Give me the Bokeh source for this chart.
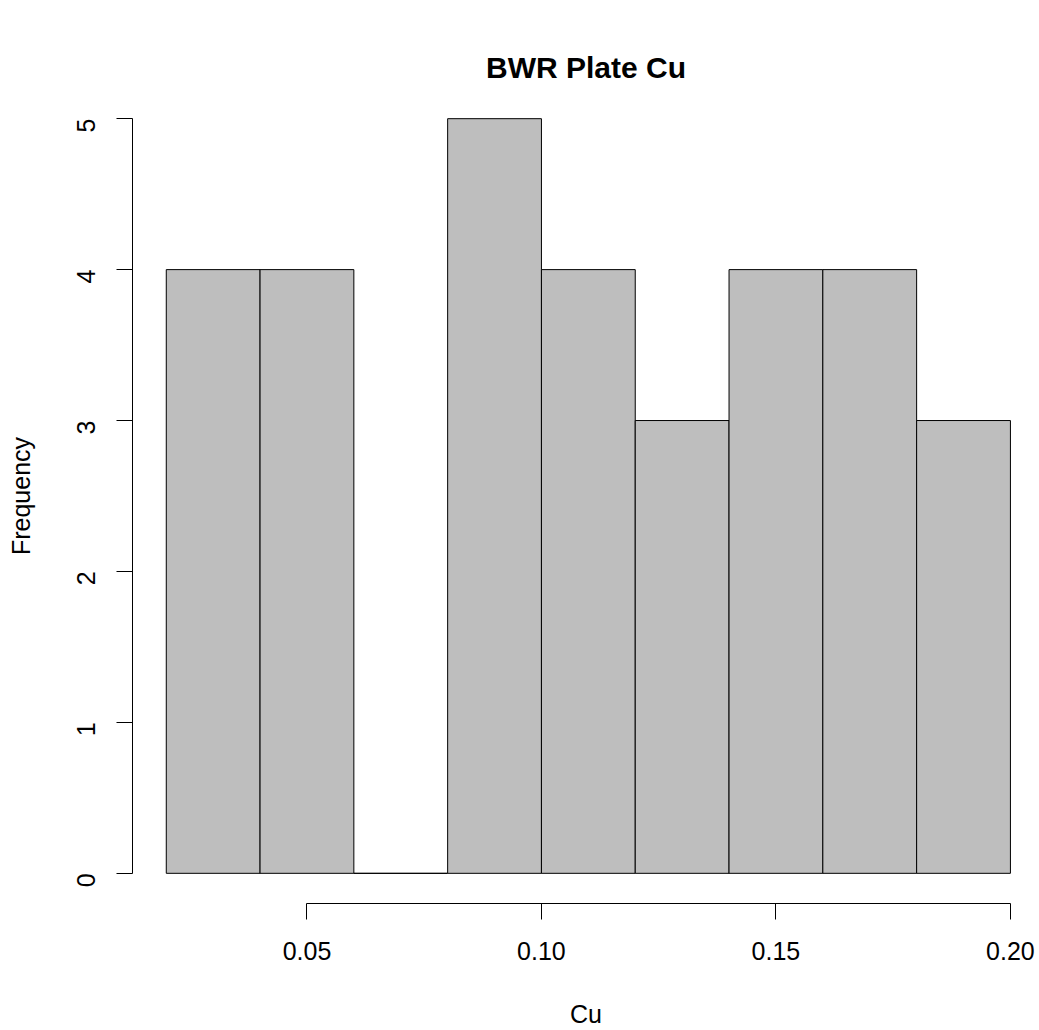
import math

from bokeh.embed import file_html
from bokeh.models import FixedTicker, PrintfTickFormatter, Range1d, Title
from bokeh.plotting import figure
from bokeh.resources import INLINE

# Histogram of Cu content, bins of width 0.02
bin_left = [0.02, 0.04, 0.06, 0.08, 0.10, 0.12, 0.14, 0.16, 0.18]
bin_right = [0.04, 0.06, 0.08, 0.10, 0.12, 0.14, 0.16, 0.18, 0.20]
counts = [4, 4, 0, 5, 4, 3, 4, 4, 3]

x_ticks = [0.05, 0.10, 0.15, 0.20]
y_ticks = [0, 1, 2, 3, 4, 5]

FONT = "Liberation Sans"

p = figure(
    width=1039,
    height=1030,
    x_range=Range1d(0.0128, 0.2062),
    y_range=Range1d(-0.2, 5.2),
    output_backend="svg",
    toolbar_location=None,
    min_border_left=132,
    min_border_right=0,
    min_border_top=88,
    min_border_bottom=126,
)
p.title = None
p.outline_line_color = None
p.xgrid.visible = False
p.ygrid.visible = False
p.background_fill_color = "white"
p.border_fill_color = "white"

p.quad(
    left=bin_left,
    right=bin_right,
    bottom=0,
    top=counts,
    fill_color="#BEBEBE",
    line_color="black",
    line_width=1,
)

# title on the outside, transparent spacer between it and the frame
p.add_layout(
    Title(
        text="BWR Plate Cu",
        align="center",
        text_font=FONT,
        text_font_size="30px",
        text_font_style="bold",
        text_color="black",
        offset=2,
    ),
    "above",
)
p.add_layout(
    Title(text="|", text_font_size="21px", text_alpha=0, standoff=0), "above"
)

# x axis
xa = p.xaxis[0]
xa.bounds = (0.05, 0.20)
xa.ticker = FixedTicker(ticks=x_ticks, minor_ticks=[])
xa.formatter = PrintfTickFormatter(format="%.2f")
xa.major_tick_in = 0
xa.major_tick_out = 16
xa.minor_tick_line_color = None
xa.axis_line_color = "black"
xa.major_tick_line_color = "black"
xa.major_label_text_font = FONT
xa.major_label_text_font_size = "25px"
xa.major_label_text_color = "black"
xa.major_label_standoff = 22
xa.axis_label = "Cu"
xa.axis_label_text_font = FONT
xa.axis_label_text_font_size = "25px"
xa.axis_label_text_font_style = "normal"
xa.axis_label_text_color = "black"
xa.axis_label_standoff = 37

# y axis
ya = p.yaxis[0]
ya.bounds = (0, 5)
ya.ticker = FixedTicker(ticks=y_ticks, minor_ticks=[])
ya.major_tick_in = 0
ya.major_tick_out = 16
ya.minor_tick_line_color = None
ya.axis_line_color = "black"
ya.major_tick_line_color = "black"
ya.major_label_orientation = math.pi / 2
ya.major_label_text_font = FONT
ya.major_label_text_font_size = "25px"
ya.major_label_text_color = "black"
ya.major_label_standoff = 30
ya.axis_label = "Frequency"
ya.axis_label_text_font = FONT
ya.axis_label_text_font_size = "25px"
ya.axis_label_text_font_style = "normal"
ya.axis_label_text_color = "black"
ya.axis_label_standoff = 31

open("out.html", "w").write(file_html(p, INLINE))
